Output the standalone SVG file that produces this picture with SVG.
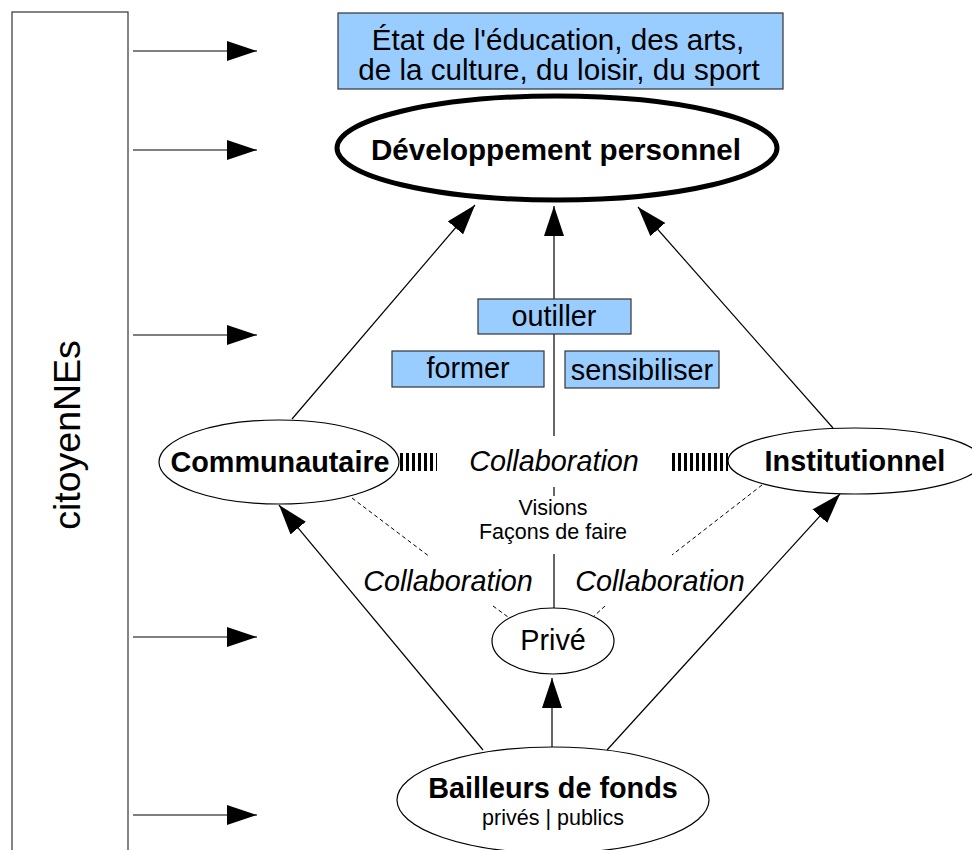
<svg xmlns="http://www.w3.org/2000/svg" width="972" height="850" viewBox="0 0 972 850">
<style>
text{font-family:"Liberation Sans",Arial,sans-serif;fill:#000}
.box{fill:#99ccff;stroke:#333;stroke-width:1.2}
.ell{fill:#fff;stroke:#000;stroke-width:1.2}
.ln{stroke:#000;stroke-width:1.2;fill:none}
.arr{stroke:#000;stroke-width:1.2;fill:none;marker-end:url(#ah)}
.dash{stroke:#000;stroke-width:1;stroke-dasharray:4 3;fill:none}
.hatch{stroke:#000;stroke-width:18;stroke-dasharray:3 3;fill:none}
.m{font-size:28.8px;text-anchor:middle}
.l{font-size:29.6px}
.b{font-weight:bold}
.i{font-style:italic}
.s{font-size:21.5px;text-anchor:middle}
</style>
<defs>
<marker id="ah" markerUnits="userSpaceOnUse" markerWidth="30" markerHeight="20" refX="30" refY="10" orient="auto">
<path d="M0,0 L30,10 L0,20 z" fill="#000"/>
</marker>
</defs>
<g id="citoyennes">
<rect x="12" y="12" width="116" height="850" fill="#fff" stroke="#333" stroke-width="1.2"/>
<text x="0" y="0" transform="translate(80,435) rotate(-90)" style="font-size:37.5px;text-anchor:middle">citoyenNEs</text>
</g>
<g id="connectors">
<line class="arr" x1="133" y1="51" x2="257" y2="51"/>
<line class="arr" x1="133" y1="150" x2="257" y2="150"/>
<line class="arr" x1="133" y1="335" x2="257" y2="335"/>
<line class="arr" x1="133" y1="637" x2="257" y2="637"/>
<line class="arr" x1="133" y1="815" x2="257" y2="815"/>
<line class="arr" x1="292" y1="419" x2="475" y2="205"/>
<line class="arr" x1="554" y1="436" x2="554" y2="206"/>
<line class="ln" x1="554" y1="487" x2="554" y2="496"/>
<line class="ln" x1="554" y1="554" x2="554" y2="608"/>
<line class="arr" x1="833" y1="428" x2="638" y2="207"/>
<line class="arr" x1="483" y1="750" x2="279" y2="505"/>
<line class="arr" x1="607" y1="750" x2="840" y2="494"/>
<line class="arr" x1="552" y1="747" x2="552" y2="678"/>
<line class="dash" x1="352" y1="498" x2="430" y2="557"/>
<line class="dash" x1="493" y1="606" x2="508" y2="617"/>
<line class="dash" x1="762" y1="485" x2="672" y2="555"/>
<line class="dash" x1="605" y1="606" x2="593" y2="617"/>
<line class="hatch" x1="400" y1="462" x2="437" y2="462"/>
<line class="hatch" x1="672" y1="462" x2="728" y2="462"/>
</g>
<g id="etat">
<rect class="box" x="338" y="13" width="445" height="76"/>
<text class="m l" x="558" y="50">État de l'éducation, des arts,</text>
<text class="m l" x="559" y="80">de la culture, du loisir, du sport</text>
</g>
<g id="developpement">
<ellipse cx="557" cy="148" rx="220" ry="52" fill="#fff" stroke="#000" stroke-width="5"/>
<text class="m b l" x="556" y="160">Développement personnel</text>
</g>
<g id="outiller">
<rect class="box" x="478" y="299" width="153" height="35"/>
<text class="m" x="554" y="326">outiller</text>
</g>
<g id="former">
<rect class="box" x="392" y="351" width="152" height="36"/>
<text class="m" x="468" y="378">former</text>
</g>
<g id="sensibiliser">
<rect class="box" x="565" y="351" width="154" height="37"/>
<text class="m" x="642" y="380">sensibiliser</text>
</g>
<g id="communautaire">
<ellipse class="ell" cx="279" cy="462" rx="120" ry="42"/>
<text class="m b" x="280" y="472">Communautaire</text>
</g>
<g id="institutionnel">
<ellipse class="ell" cx="855" cy="461" rx="127" ry="33"/>
<text class="m b" x="855" y="471">Institutionnel</text>
</g>
<g id="collab-labels">
<text class="m i" x="554" y="471">Collaboration</text>
<text class="s" x="553" y="515">Visions</text>
<text class="s" x="553" y="539">Façons de faire</text>
<text class="m i" x="448" y="591">Collaboration</text>
<text class="m i" x="660" y="591">Collaboration</text>
</g>
<g id="prive">
<ellipse class="ell" cx="553" cy="641" rx="61" ry="33"/>
<text class="m" x="553" y="650">Privé</text>
</g>
<g id="bailleurs">
<ellipse class="ell" cx="553" cy="800" rx="156" ry="53"/>
<text class="m b" x="553" y="798">Bailleurs de fonds</text>
<text x="553" y="825" style="font-size:21.5px;text-anchor:middle">privés | publics</text>
</g>
</svg>
